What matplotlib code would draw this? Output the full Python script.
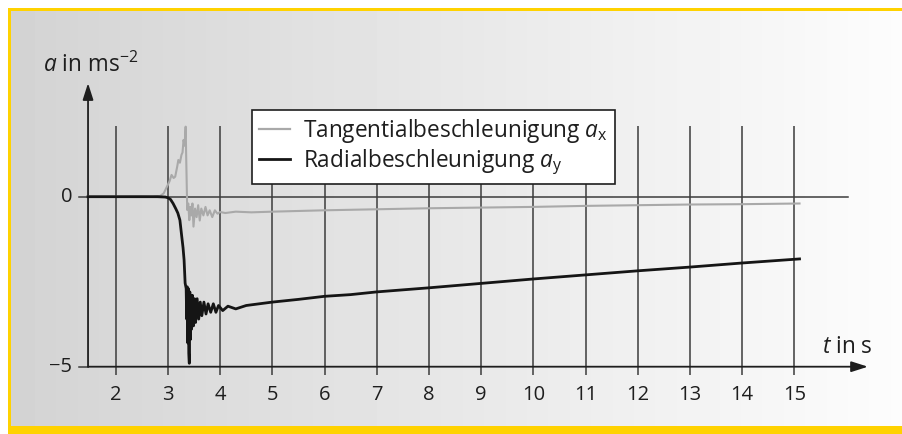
import numpy as np
import matplotlib
matplotlib.use("Agg")
import matplotlib.pyplot as plt
from matplotlib.lines import Line2D
from matplotlib.patches import Rectangle

# ── Style ──────────────────────────────────────────────────────────────────────
FONT   = "Open Sans"
YELLOW = "#ffd200"
INK    = "#1e1e1e"
GRID   = "#3c3c3c"
GREY   = "#a9a9a9"
BLACK  = "#151515"
FS_TICK = 14.5
FS_TEXT = 16.3

plt.rcParams["font.family"] = [FONT, "DejaVu Sans"]
plt.rcParams["mathtext.fontset"] = "custom"
plt.rcParams["mathtext.rm"] = FONT
plt.rcParams["mathtext.it"] = FONT + ":italic"

# ── Data ───────────────────────────────────────────────────────────────────────
t_ticks = list(range(2, 16))
a_ticks = [0, -5]

# tangential acceleration a_x (s, m/s^2)
t_tan = [1.47, 2.0, 2.5, 2.7, 2.85, 2.92, 2.98, 3.03, 3.07, 3.11, 3.14, 3.18,
         3.20, 3.23, 3.26, 3.28, 3.30, 3.32, 3.34, 3.35, 3.37, 3.39, 3.41,
         3.43, 3.45, 3.47, 3.49, 3.52, 3.55, 3.58, 3.61, 3.64, 3.68, 3.72,
         3.76, 3.80, 3.85, 3.90, 3.95, 4.00, 4.10, 4.30, 4.60, 5.00, 5.50,
         6.00, 7.00, 8.00, 9.00, 10.0, 11.0, 12.0, 13.0, 14.0, 15.1]
a_tan = [0.0, 0.0, 0.01, 0.0, 0.02, 0.10, 0.29, 0.45, 0.64, 0.55, 0.59, 0.90,
         1.08, 1.00, 1.23, 1.30, 1.67, 1.50, 2.06, 1.20, -0.39, -0.20, -0.69,
         -0.30, -0.55, -0.20, -0.88, -0.35, -0.60, -0.25, -0.70, -0.35, -0.55,
         -0.30, -0.55, -0.40, -0.60, -0.40, -0.50, -0.45, -0.48, -0.44, -0.46,
         -0.44, -0.42, -0.40, -0.37, -0.34, -0.32, -0.30, -0.27, -0.25, -0.23,
         -0.22, -0.20]

# radial acceleration a_y (s, m/s^2)
t_rad = [1.47, 2.0, 2.5, 2.8, 2.95, 3.00, 3.05, 3.10, 3.15, 3.19, 3.23, 3.26,
         3.29, 3.31, 3.33, 3.35, 3.36, 3.37, 3.38, 3.39, 3.40, 3.41, 3.42,
         3.43, 3.44, 3.45, 3.47, 3.49, 3.51, 3.53, 3.56, 3.59, 3.62, 3.65,
         3.69, 3.73, 3.77, 3.82, 3.87, 3.92, 3.97, 4.05, 4.15, 4.30, 4.50,
         4.75, 5.00, 5.50, 6.00, 6.50, 7.00, 8.00, 9.00, 10.0, 11.0, 12.0,
         13.0, 14.0, 15.1]
a_rad = [0.0, 0.0, 0.0, 0.0, -0.01, -0.03, -0.08, -0.20, -0.35, -0.48, -0.69,
         -1.10, -1.50, -1.86, -2.54, -2.70, -3.60, -2.65, -4.30, -2.70, -4.60,
         -4.90, -2.80, -4.20, -2.90, -3.90, -2.90, -3.80, -3.00, -3.70, -3.00,
         -3.60, -3.10, -3.50, -3.10, -3.45, -3.15, -3.40, -3.15, -3.40, -3.20,
         -3.35, -3.22, -3.30, -3.20, -3.15, -3.10, -3.02, -2.93, -2.88, -2.80,
         -2.68, -2.55, -2.42, -2.30, -2.18, -2.07, -1.95, -1.83]

# ── Layout (pixels) ────────────────────────────────────────────────────────────
W, H, DPI = 902, 434, 100
PX_T2, PX_PER_S = 115.7, 52.2      # x pixel of t = 2 s, pixels per second
PY_A0, PY_PER_A = 196.7, 34.0      # y pixel of a = 0, pixels per m/s^2
XLIM = (0.5, 17.0)
YLIM = (-6.5, 4.2)

fig = plt.figure(figsize=(W / DPI, H / DPI), dpi=DPI)
fig.patch.set_facecolor("white")

# background panel with grey gradient and yellow frame
bg = fig.add_axes([0, 0, 1, 1])
bg.set_xlim(0, W)
bg.set_ylim(H, 0)
bg.axis("off")
grad = np.linspace(0.828, 0.99, 256)[None, :]
bg.imshow(grad, cmap="gray", vmin=0, vmax=1, aspect="auto",
          extent=(11, W, 426, 11), interpolation="bicubic")
bg.add_patch(Rectangle((8, 8), W - 8, 3, color=YELLOW, lw=0))
bg.add_patch(Rectangle((8, 8), 3, 420, color=YELLOW, lw=0))
bg.add_patch(Rectangle((8, 426), W - 8, 8, color=YELLOW, lw=0))

# data axes positioned so the scales land on the pixel grid above
left = PX_T2 + (XLIM[0] - 2) * PX_PER_S
right = PX_T2 + (XLIM[1] - 2) * PX_PER_S
top = PY_A0 - YLIM[1] * PY_PER_A
bottom = PY_A0 - YLIM[0] * PY_PER_A
ax = fig.add_axes([left / W, 1 - bottom / H, (right - left) / W, (bottom - top) / H])
ax.set_xlim(*XLIM)
ax.set_ylim(*YLIM)
ax.axis("off")
ax.patch.set_alpha(0)

# vertical grid lines with tick stubs below the time axis
for t in t_ticks:
    ax.plot([t, t], [-5.24, 2.08], color=GRID, lw=1.1, solid_capstyle="butt", zorder=2)
    ax.text(t, -5.83, str(t), ha="center", va="center", fontsize=FS_TICK, color=INK)

# zero line and -5 tick
ax.plot([1.30, 16.03], [0, 0], color=GRID, lw=1.1, zorder=2)
ax.plot([1.30, 1.47], [-5, -5], color=GRID, lw=1.1, zorder=2)
for a in a_ticks:
    lab = "0" if a == 0 else "\u22125"
    ax.text(1.165, a, lab, ha="right", va="center", fontsize=FS_TICK, color=INK)

# axes with arrow heads
arrow = dict(arrowstyle="-|>,head_length=1.0,head_width=0.32", color=INK, lw=1.3,
             shrinkA=0, shrinkB=0)
ax.annotate("", xy=(1.47, 3.34), xytext=(1.47, -5), arrowprops=arrow, zorder=3)
ax.annotate("", xy=(16.41, -5), xytext=(1.47, -5), arrowprops=arrow, zorder=3)

ax.text(0.607, 3.67, r"$a$ in ms$^{\mathregular{-2}}$", ha="left", va="baseline",
        fontsize=FS_TEXT, color=INK)
ax.text(15.54, -4.6, r"$t$ in s", ha="left", va="baseline", fontsize=FS_TEXT, color=INK)

# measured series
ax.plot(t_tan, a_tan, color=GREY, lw=1.5, zorder=4)
ax.plot(t_rad, a_rad, color=BLACK, lw=2.0, zorder=5)

handles = [Line2D([], [], color=GREY, lw=1.6),
           Line2D([], [], color=BLACK, lw=2.0)]
labels = [r"Tangentialbeschleunigung $a_{\mathregular{x}}$",
          r"Radialbeschleunigung $a_{\mathregular{y}}$"]
leg = ax.legend(handles, labels, loc="upper left",
                bbox_to_anchor=(252 / W, 1 - 110 / H), bbox_transform=fig.transFigure,
                borderaxespad=0, fontsize=FS_TEXT, frameon=True, fancybox=False,
                handlelength=1.35, handletextpad=0.58, borderpad=0.32,
                labelspacing=0.1, labelcolor=INK)
leg.get_frame().set_edgecolor(INK)
leg.get_frame().set_linewidth(1.2)
leg.get_frame().set_facecolor("white")
leg.get_frame().set_alpha(1)
leg.set_zorder(6)

fig.savefig("out.png", dpi=DPI)
